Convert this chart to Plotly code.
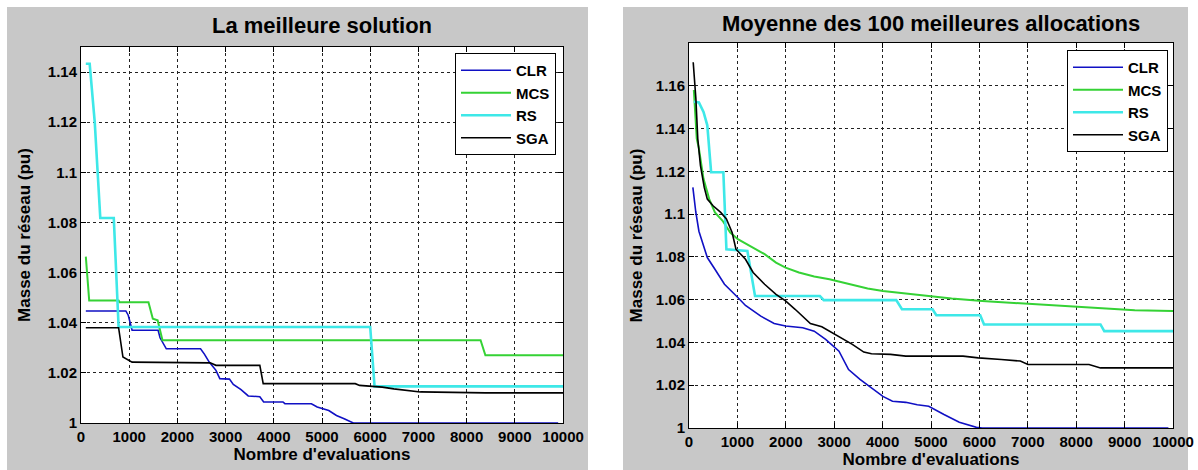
import plotly.graph_objects as go

# ---------------- data: left panel "La meilleure solution" ----------------
clr1_x = [100, 930, 980, 1060, 1600, 1640, 1770, 2480, 2560, 2660, 2800, 2880, 3080, 3160, 3320, 3470, 3710, 3790, 4190, 4230, 4780, 4900, 5140, 5220, 5300, 5460, 5650, 9900]
clr1_y = [1.0447, 1.0447, 1.0430, 1.0370, 1.0370, 1.0340, 1.0296, 1.0296, 1.0275, 1.0243, 1.0210, 1.0177, 1.0175, 1.0154, 1.0133, 1.0108, 1.0105, 1.0084, 1.0084, 1.0077, 1.0077, 1.0064, 1.0050, 1.0040, 1.0030, 1.0017, 1.0, 1.0]

mcs1_x = [100, 170, 780, 800, 1400, 1490, 1590, 1690, 8290, 8390, 10000]
mcs1_y = [1.0664, 1.0489, 1.0489, 1.0482, 1.0482, 1.0416, 1.0410, 1.0330, 1.0330, 1.0270, 1.0270]

rs1_x = [100, 180, 285, 350, 400, 680, 780, 6000, 6090, 10000]
rs1_y = [1.1433, 1.1433, 1.12, 1.10, 1.0818, 1.0818, 1.0383, 1.0383, 1.0146, 1.0146]

sga1_x = [100, 780, 870, 1060, 2680, 2800, 3710, 3780, 5690, 5780, 6250, 6490, 7040, 8390, 10000]
sga1_y = [1.038, 1.038, 1.0263, 1.0243, 1.0240, 1.0230, 1.0230, 1.0157, 1.0157, 1.0150, 1.0143, 1.0136, 1.0124, 1.0120, 1.0120]

# ---------------- data: right panel "Moyenne des 100 meilleures allocations" ----------------
clr2_x = [80, 140, 205, 378, 536, 733, 1009, 1167, 1483, 1759, 1995, 2350, 2587, 2823, 3099, 3297, 3533, 3770, 4006, 4204, 4479, 4716, 4953, 5268, 5584, 5938, 6057, 9905]
clr2_y = [1.1125, 1.1010, 1.0920, 1.0797, 1.0742, 1.0672, 1.0610, 1.0573, 1.0523, 1.0489, 1.0477, 1.0469, 1.0453, 1.0414, 1.0359, 1.0273, 1.0227, 1.0188, 1.0148, 1.0125, 1.0120, 1.0109, 1.0102, 1.0063, 1.0027, 1.0003, 1.0, 1.0]

mcs2_x = [100, 160, 205, 300, 418, 536, 694, 852, 1009, 1325, 1562, 1798, 1995, 2271, 2587, 2902, 3297, 3691, 4006, 4479, 5032, 5426, 6057, 6845, 7634, 8423, 9211, 10000]
mcs2_y = [1.158, 1.1353, 1.1306, 1.1165, 1.1070, 1.1008, 1.0969, 1.0914, 1.0883, 1.0844, 1.0813, 1.0773, 1.0750, 1.0727, 1.0708, 1.0695, 1.0672, 1.0652, 1.0640, 1.0628, 1.0617, 1.0605, 1.0594, 1.0583, 1.0570, 1.0559, 1.0550, 1.0547]

rs2_x = [100, 205, 300, 378, 457, 710, 773, 1206, 1364, 2705, 2784, 4282, 4400, 5032, 5110, 6017, 6096, 8502, 8580, 10000]
rs2_y = [1.1525, 1.1522, 1.1478, 1.1415, 1.1196, 1.1196, 1.0836, 1.0828, 1.0617, 1.0617, 1.0598, 1.0598, 1.0555, 1.0555, 1.0527, 1.0527, 1.0484, 1.0484, 1.0453, 1.0453]

sga2_x = [87, 142, 181, 237, 315, 378, 497, 655, 773, 852, 891, 970, 1167, 1325, 1562, 1798, 1995, 2192, 2350, 2508, 2744, 2902, 3139, 3375, 3612, 3770, 4164, 4479, 5662, 5978, 6451, 6845, 7003, 8265, 8502, 10000]
sga2_y = [1.171, 1.154, 1.1353, 1.1227, 1.1125, 1.1070, 1.1039, 1.1008, 1.0977, 1.0930, 1.0914, 1.0836, 1.0789, 1.0727, 1.0672, 1.0625, 1.0594, 1.0555, 1.0523, 1.0488, 1.0473, 1.0453, 1.0422, 1.0391, 1.0355, 1.0347, 1.0344, 1.0336, 1.0336, 1.0328, 1.0320, 1.0313, 1.0297, 1.0297, 1.0281, 1.0281]

series_names = ["CLR", "MCS", "RS", "SGA"]
left_title = "La meilleure solution"
right_title = "Moyenne des 100 meilleures allocations"
x_label = "Nombre d'evaluations"
y_label = "Masse du réseau (pu)"
x_ticks = [0, 1000, 2000, 3000, 4000, 5000, 6000, 7000, 8000, 9000, 10000]
y1_ticks = [1, 1.02, 1.04, 1.06, 1.08, 1.1, 1.12, 1.14]
y1_text = ["1", "1.02", "1.04", "1.06", "1.08", "1.1", "1.12", "1.14"]
y2_ticks = [1, 1.02, 1.04, 1.06, 1.08, 1.1, 1.12, 1.14, 1.16]
y2_text = ["1", "1.02", "1.04", "1.06", "1.08", "1.1", "1.12", "1.14", "1.16"]

# ---------------- styling ----------------
W, H = 1198, 470
FONT = "Liberation Sans, Arial, sans-serif"
styles = {
    "CLR": dict(color="#1010c4", width=1.6),
    "MCS": dict(color="#35d235", width=2.0),
    "RS": dict(color="#3ee8e8", width=2.6),
    "SGA": dict(color="#000000", width=1.6),
}

fig = go.Figure()
left = [(clr1_x, clr1_y), (mcs1_x, mcs1_y), (rs1_x, rs1_y), (sga1_x, sga1_y)]
right = [(clr2_x, clr2_y), (mcs2_x, mcs2_y), (rs2_x, rs2_y), (sga2_x, sga2_y)]
for i, name in enumerate(series_names):
    fig.add_trace(go.Scatter(x=left[i][0], y=left[i][1], mode="lines", name=name,
                             line=styles[name], xaxis="x", yaxis="y", legend="legend",
                             legendgroup="a" + name))
for i, name in enumerate(series_names):
    fig.add_trace(go.Scatter(x=right[i][0], y=right[i][1], mode="lines", name=name,
                             line=styles[name], xaxis="x2", yaxis="y2", legend="legend2",
                             legendgroup="b" + name))


def px_x(p):
    return p / W


def px_y(p):
    return (H - p) / H


axis_common = dict(
    showline=True, linecolor="black", linewidth=1, mirror="allticks",
    ticks="inside", ticklen=5, tickcolor="black",
    showgrid=True, gridcolor="#222222", griddash="3px,3px", gridwidth=1,
    zeroline=False, automargin=False,
    tickfont=dict(family=FONT, size=15, color="black", weight="bold"),
)
title_font = dict(family=FONT, size=17, color="black", weight="bold")
legend_style = dict(bgcolor="white", bordercolor="black", borderwidth=1,
                    font=dict(family=FONT, size=15, color="black", weight="bold"),
                    traceorder="grouped", tracegroupgap=0, itemwidth=50)

fig.update_layout(
    width=W, height=H,
    margin=dict(l=0, r=0, t=0, b=0, autoexpand=False),
    paper_bgcolor="white", plot_bgcolor="white",
    showlegend=True,
    xaxis=dict(axis_common, domain=[px_x(81), px_x(563)], range=[0, 10000],
               tickvals=x_ticks, ticktext=[str(v) for v in x_ticks], anchor="y",
               title=dict(text=x_label, font=title_font, standoff=2)),
    yaxis=dict(axis_common, domain=[px_y(423), px_y(47)], range=[1, 1.15],
               tickvals=y1_ticks, ticktext=y1_text, anchor="x",
               title=dict(text=y_label, font=title_font, standoff=12)),
    xaxis2=dict(axis_common, domain=[px_x(689), px_x(1173)], range=[0, 10000],
                tickvals=x_ticks, ticktext=[str(v) for v in x_ticks], anchor="y2",
                title=dict(text=x_label, font=title_font, standoff=2)),
    yaxis2=dict(axis_common, domain=[px_y(428), px_y(43)], range=[1, 1.18],
                tickvals=y2_ticks, ticktext=y2_text, anchor="x2",
                title=dict(text=y_label, font=title_font, standoff=8)),
    legend=dict(legend_style, x=px_x(455), y=px_y(53), xanchor="left", yanchor="top"),
    legend2=dict(legend_style, x=px_x(1067), y=px_y(50), xanchor="left", yanchor="top"),
)

# gray figure backgrounds (MATLAB-style) with white plot areas on top
shapes = [
    dict(type="rect", xref="paper", yref="paper", x0=px_x(7), x1=px_x(588), y0=0, y1=px_y(7),
         fillcolor="#c8c8c8", line=dict(width=0), layer="below"),
    dict(type="rect", xref="paper", yref="paper", x0=px_x(623), x1=px_x(1188), y0=0, y1=px_y(7),
         fillcolor="#c8c8c8", line=dict(width=0), layer="below"),
    dict(type="rect", xref="x domain", yref="y domain", x0=0, x1=1, y0=0, y1=1,
         fillcolor="white", line=dict(width=0), layer="below"),
    dict(type="rect", xref="x2 domain", yref="y2 domain", x0=0, x1=1, y0=0, y1=1,
         fillcolor="white", line=dict(width=0), layer="below"),
]
fig.update_layout(shapes=shapes)

fig.add_annotation(text=left_title, xref="paper", yref="paper", x=px_x(322), y=px_y(25),
                   showarrow=False, xanchor="center", yanchor="middle",
                   font=dict(family=FONT, size=22, color="black", weight="bold"))
fig.add_annotation(text=right_title, xref="paper", yref="paper", x=px_x(931), y=px_y(24),
                   showarrow=False, xanchor="center", yanchor="middle",
                   font=dict(family=FONT, size=22, color="black", weight="bold"))

fig.write_html("out.html", config={"displayModeBar": False},
               post_script="document.body.style.margin='0px';")
